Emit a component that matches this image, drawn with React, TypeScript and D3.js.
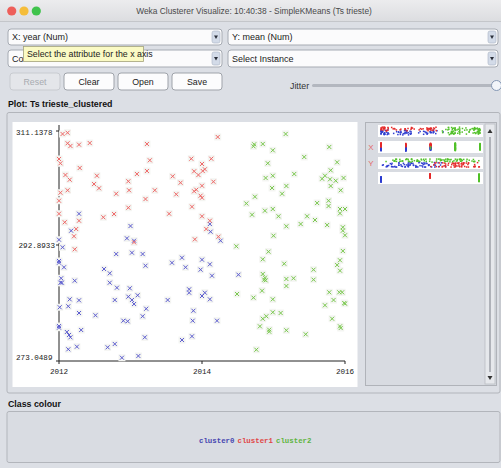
import React from 'react';
import * as d3 from 'd3';

// cluster points: [year, mean] (jittered, as shown in the plot)
const cluster0 = [
  [2012.28, 297.9], [2013.0, 295.93], [2012.17, 295.18], [2014.11, 296.25], [2014.12, 295.02],
  [2012.0, 293.74], [2012.95, 293.96], [2013.05, 293.58], [2014.26, 293.58], [2012.05, 292.5],
  [2012.8, 291.35], [2013.02, 291.58], [2013.17, 291.35], [2013.72, 290.72], [2014.0, 290.38],
  [2012.0, 290.16], [2012.0, 289.86], [2012.07, 289.08], [2012.63, 288.79], [2012.71, 288.05],
  [2013.21, 289.35], [2013.58, 289.86], [2013.77, 289.08], [2014.11, 289.59], [2013.98, 288.67],
  [2014.14, 287.64], [2014.51, 287.81], [2012.03, 287.2], [2012.04, 286.44], [2012.02, 286.44],
  [2012.22, 286.79], [2012.71, 286.44], [2012.81, 285.59], [2012.99, 285.49], [2013.82, 285.31],
  [2013.82, 284.73], [2014.04, 284.73], [2014.0, 284.17], [2014.11, 283.6], [2013.1, 284.29],
  [2012.97, 284.05], [2013.02, 283.48], [2013.05, 282.8], [2012.78, 283.48], [2012.15, 283.6],
  [2012.28, 283.43], [2013.52, 283.48], [2012.01, 282.24], [2012.13, 282.41], [2013.22, 281.99],
  [2012.28, 281.26], [2012.51, 280.87], [2013.17, 280.7], [2013.88, 281.65], [2012.9, 279.94],
  [2012.96, 279.84], [2013.87, 279.94], [2014.21, 279.94], [2012.0, 279.03], [2012.0, 278.75],
  [2012.31, 278.35], [2012.11, 278.01], [2012.14, 277.5], [2012.16, 277.1], [2013.2, 277.1],
  [2013.86, 277.27], [2013.72, 276.64], [2012.78, 275.96], [2012.68, 275.39], [2012.25, 275.5],
  [2012.13, 275.05], [2013.11, 273.91], [2012.88, 273.61],
];

const cluster1 = [
  [2012.05, 310.66], [2012.12, 310.86], [2012.12, 309.17], [2012.16, 308.74], [2012.28, 308.95],
  [2012.43, 309.21], [2013.23, 309.06], [2014.22, 310.18], [2012.0, 306.66], [2012.02, 305.97],
  [2012.29, 305.22], [2013.27, 306.45], [2013.85, 306.7], [2014.0, 305.86], [2014.13, 306.7],
  [2012.09, 304.1], [2012.15, 303.34], [2012.53, 303.98], [2012.49, 302.65], [2012.56, 301.97],
  [2012.97, 303.09], [2013.09, 304.26], [2013.23, 304.74], [2013.59, 303.89], [2013.7, 302.86],
  [2013.89, 304.69], [2013.95, 304.1], [2014.01, 304.74], [2014.04, 305.01], [2014.16, 303.02],
  [2012.02, 301.26], [2012.12, 301.65], [2012.0, 299.98], [2012.8, 301.1], [2012.98, 301.65],
  [2013.21, 300.25], [2013.34, 301.65], [2013.64, 301.01], [2013.89, 301.49], [2013.92, 301.74],
  [2014.0, 302.38], [2013.98, 300.78], [2014.0, 300.46], [2013.86, 299.02], [2012.97, 298.86],
  [2012.0, 297.9], [2012.77, 297.85], [2012.62, 297.33], [2013.54, 297.9], [2014.0, 297.49],
  [2012.08, 296.53], [2012.28, 296.78], [2014.11, 296.78], [2012.24, 295.45], [2014.06, 295.45],
  [2012.21, 294.29], [2013.9, 293.8], [2014.23, 294.22], [2013.05, 293.32], [2012.22, 292.16],
];

const cluster2 = [
  [2014.62, 299.54], [2014.48, 292.67], [2015.17, 310.66], [2014.73, 309.01], [2014.72, 308.69],
  [2014.85, 309.06], [2014.99, 308.05], [2015.78, 308.58], [2015.43, 306.98], [2014.92, 305.97],
  [2015.89, 306.13], [2015.29, 304.26], [2014.89, 303.62], [2014.99, 303.98], [2015.68, 303.5],
  [2015.72, 303.98], [2015.8, 304.85], [2015.79, 303.41], [2015.87, 303.18], [2015.98, 303.62],
  [2015.18, 302.34], [2014.98, 302.02], [2015.12, 301.1], [2015.8, 302.34], [2015.94, 301.65],
  [2014.74, 300.62], [2015.61, 299.61], [2015.77, 299.98], [2015.77, 299.13], [2014.88, 298.38],
  [2014.99, 298.65], [2014.7, 297.74], [2015.07, 297.49], [2015.47, 297.49], [2015.58, 296.89],
  [2015.93, 298.65], [2016.0, 298.65], [2015.93, 297.96], [2015.18, 295.89], [2015.38, 296.25],
  [2015.75, 296.09], [2015.97, 295.73], [2015.97, 295.18], [2016.0, 294.45], [2015.0, 294.38],
  [2014.93, 291.75], [2015.97, 291.87], [2014.85, 290.45], [2015.15, 289.69], [2015.56, 288.67],
  [2015.93, 290.28], [2015.89, 289.47], [2015.93, 288.5], [2014.85, 287.93], [2014.88, 287.3],
  [2014.89, 286.85], [2014.87, 286.96], [2015.18, 287.08], [2015.28, 287.2], [2015.56, 286.96],
  [2015.18, 285.88], [2014.84, 285.07], [2014.49, 284.51], [2014.72, 283.88], [2014.99, 283.6],
  [2015.78, 284.8], [2015.92, 284.8], [2015.96, 284.8], [2015.84, 283.48], [2015.72, 282.58],
  [2015.99, 282.97], [2016.0, 282.85], [2014.99, 281.38], [2015.1, 281.26], [2014.9, 280.7],
  [2014.85, 280.28], [2015.82, 280.28], [2014.81, 278.98], [2014.94, 278.4], [2014.94, 278.06],
  [2015.18, 278.3], [2015.45, 277.62], [2015.93, 278.98], [2015.94, 278.69], [2014.76, 274.98],
];

const clusterNames = ['cluster0', 'cluster1', 'cluster2'];
const yTicks = [273.0489, 292.8933, 311.1378];
const xTicks = [2012, 2014, 2016];

const markColors = ['#5c5cd0', '#ef6767', '#78c84c'];
const legendColors = ['#4646b0', '#e04646', '#5eb43e'];
const dotColors = ['#2f3fd0', '#e42a2a', '#52c02a'];

const clusters = [cluster0, cluster1, cluster2];
const allPts = clusters.flatMap((c, ci) => c.map(([year, mean]) => ({ year, mean, ci })));

const W = 501;
const H = 468;
const BG = '#dcdfe5';
const sans = '"Liberation Sans", Arial, sans-serif';
const mono = '"Liberation Mono", "DejaVu Sans Mono", monospace';

const App = () => {
  const x = d3.scaleLinear().domain([2012, 2016]).range([59, 345]);
  const y = d3.scaleLinear().domain(yTicks).range([361, 245, 131]);

  // attribute strips in the right panel
  const sx = d3.scaleLinear().domain([2012, 2016]).range([381, 480]);
  const sy = d3.scaleLinear().domain([273.0489, 311.1378]).range([381, 480]);
  const sc = d3.scaleLinear().domain([0, 2]).range([381, 479]);
  const spread = (top: number) => d3.scaleLinear().domain([273.0489, 311.1378]).range([top + 10, top + 2]);
  const spreadYear = d3.scaleLinear().domain([2012, 2016]).range([167, 159]);
  const strips = [
    { top: 125, label: '', px: (p) => sx(p.year), py: (p) => spread(125)(p.mean) },
    { top: 141, label: 'X', px: (p) => sx(Math.round(p.year)), py: (p) => spread(141)(p.mean) },
    { top: 157, label: 'Y', px: (p) => sy(p.mean), py: (p) => spreadYear(p.year) },
    { top: 172, label: '', px: (p) => sc(p.ci), py: (p) => spread(172)(p.mean) },
  ];

  const buttons = ['Reset', 'Clear', 'Open', 'Save'];

  const comboBox = (bx: number, by: number, bw: number, bh: number, text: string, clip?: string) => (
    <g>
      <rect x={bx} y={by} width={bw} height={bh} rx={3} fill="#fbfbfc" stroke="#a6abb3" />
      <rect x={bx + bw - 10} y={by + 2} width={8} height={bh - 4} rx={2} fill="#d3dbe8" stroke="#aab3c2" strokeWidth={0.6} />
      <path d={`M${bx + bw - 8},${by + bh / 2 - 1.5} l4,0 l-2,3.5 z`} fill="#2a2f3a" />
      <text x={bx + 4} y={by + bh / 2 + 3.2} fontSize={9} fontFamily={sans} fill="#222"
        clipPath={clip ? `url(#${clip})` : undefined}>{text}</text>
    </g>
  );

  return (
    <svg width={W} height={H} style={{ position: 'absolute', left: 0, top: 0, display: 'block' }}>
      <defs>
        <linearGradient id="titleGrad" x1="0" y1="0" x2="0" y2="1">
          <stop offset="0" stopColor="#ececee" />
          <stop offset="1" stopColor="#dcdde0" />
        </linearGradient>
        <clipPath id="underTip">
          <rect x={8} y={50} width={15} height={17} />
        </clipPath>
      </defs>
      <rect x={0} y={0} width={W} height={H} fill={BG} />

      {/* title bar */}
      <rect x={0} y={0} width={W} height={21} fill="url(#titleGrad)" />
      <line x1={0} x2={W} y1={21.5} y2={21.5} stroke="#c4c6ca" />
      {['#ee5f5a', '#f5bd3a', '#3fc34c'].map((c, i) => (
        <circle key={c} cx={11.7 + i * 12.3} cy={11} r={4.6} fill={c} />
      ))}
      <text x={254} y={14} textAnchor="middle" fontSize={8.4} fontFamily={sans} fill="#4a4a4a">
        Weka Clusterer Visualize: 10:40:38 - SimpleKMeans (Ts trieste)
      </text>

      {/* selectors */}
      {comboBox(8, 29, 214, 16, 'X: year (Num)')}
      {comboBox(228, 29, 270, 16, 'Y: mean (Num)')}
      {comboBox(8, 50, 214, 17, 'Colour: Cluster (Nom)', 'underTip')}
      {comboBox(228, 50, 270, 17, 'Select Instance')}

      {/* tooltip */}
      <rect x={23.5} y={46.5} width={120} height={15} fill="#fafac4" stroke="#a3a27a" strokeWidth={0.8} />
      <text x={27} y={57} fontSize={8.8} fontFamily={sans} fill="#222">Select the attribute for the x axis</text>

      {/* buttons */}
      {buttons.map((b, i) => (
        <g key={b}>
          <rect x={10 + i * 54} y={73} width={50} height={17} rx={3}
            fill={i === 0 ? '#e4e6ea' : '#fcfcfd'} stroke={i === 0 ? '#c8cbd0' : '#9fa3aa'} />
          <text x={35 + i * 54} y={84.5} textAnchor="middle" fontSize={8.8} fontFamily={sans}
            fill={i === 0 ? '#a8abb0' : '#222'}>{b}</text>
        </g>
      ))}

      {/* jitter slider */}
      <text x={290} y={88.5} fontSize={8.8} fontFamily={sans} fill="#333">Jitter</text>
      <rect x={312} y={84} width={182} height={3} rx={1.5} fill="#b3b7bf" />
      <circle cx={496.5} cy={85.5} r={5} fill="#f2f5fa" stroke="#8497b4" />

      {/* plot group */}
      <text x={8} y={107} fontSize={8.8} fontWeight="bold" fontFamily={sans} fill="#111">Plot: Ts trieste_clustered</text>
      <rect x={7} y={112.5} width={493} height={280.5} rx={2} fill={BG} stroke="#b2b5bb" />
      <rect x={12.5} y={122} width={345} height={265} fill="#ffffff" />

      {/* axes */}
      <line x1={x(2012)} x2={x(2012)} y1={125} y2={y(yTicks[0])} stroke="#222" />
      <line x1={x(2012)} x2={x(2016)} y1={y(yTicks[0])} y2={y(yTicks[0])} stroke="#222" />
      {yTicks.map((t, i) => (
        <g key={t}>
          <line x1={x(2012) - 3} x2={x(2012)} y1={y(t)} y2={y(t)} stroke="#222" />
          <text x={i === 1 ? 55 : 52.5} y={y(t) + (i === 0 ? -1 : i === 2 ? 4 : 2.5)}
            textAnchor="end" fontSize={7.6} fontFamily={mono} fill="#222">{t.toFixed(4)}</text>
        </g>
      ))}
      {xTicks.map((t) => (
        <g key={t}>
          <line x1={x(t)} x2={x(t)} y1={y(yTicks[0])} y2={y(yTicks[0]) + 3} stroke="#222" />
          <text x={x(t)} y={374} textAnchor="middle" fontSize={7.6} fontFamily={mono} fill="#222">{t}</text>
        </g>
      ))}

      {/* points */}
      {allPts.map((p, i) => (
        <rect key={'b' + i} x={x(p.year) - 3.5} y={y(p.mean) - 3.5} width={7} height={7} fill="#f4f5f2" />
      ))}
      {allPts.map((p, i) => {
        const cx = x(p.year);
        const cy = y(p.mean);
        return (
          <path key={'p' + i} d={`M${cx - 2},${cy - 2}L${cx + 2},${cy + 2}M${cx - 2},${cy + 2}L${cx + 2},${cy - 2}`}
            stroke={markColors[p.ci]} strokeWidth={1} fill="none" />
        );
      })}

      {/* attribute panel */}
      <rect x={365.5} y={122.5} width={131} height={263} fill="#d8dbe1" stroke="#b0b3b9" />
      <rect x={485} y={124} width={10} height={260} fill="#e6e8ec" stroke="#babdc3" strokeWidth={0.8} />
      <line x1={490} x2={490} y1={137} y2={372} stroke="#9da1a8" strokeWidth={1.5} />
      <path d="M487.5,133 l5,0 l-2.5,-4 z" fill="#333" />
      <path d="M487.5,376 l5,0 l-2.5,4 z" fill="#333" />
      {strips.map((s, si) => (
        <g key={si}>
          <rect x={378} y={s.top} width={105} height={12} fill="#ffffff" />
          {s.label && (
            <text x={371} y={s.top + 9} textAnchor="middle" fontSize={8} fontFamily={sans} fill="#e46a6a">{s.label}</text>
          )}
          {allPts.map((p, i) => (
            <rect key={i} x={s.px(p) - 0.7} y={s.py(p) - 0.7} width={1.5} height={1.5} fill={dotColors[p.ci]} />
          ))}
        </g>
      ))}

      {/* class colour */}
      <text x={8} y={407} fontSize={8.8} fontWeight="bold" fontFamily={sans} fill="#111">Class colour</text>
      <rect x={7} y={411.5} width={493} height={51} rx={2} fill="#d9dce2" stroke="#b2b5bb" />
      {clusterNames.map((n, i) => (
        <text key={n} x={199 + i * 38.5} y={443} fontSize={7.4} fontWeight="bold" fontFamily={mono} fill={legendColors[i]}>{n}</text>
      ))}
    </svg>
  );
};

export default App;
